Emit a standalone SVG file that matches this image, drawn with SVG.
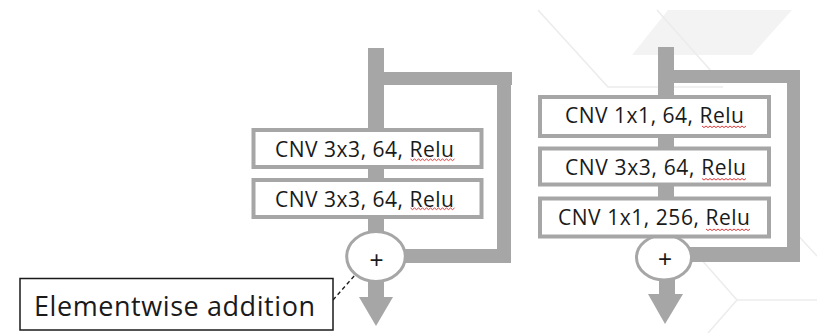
<svg xmlns="http://www.w3.org/2000/svg" xmlns:xlink="http://www.w3.org/1999/xlink" width="817" height="333" viewBox="0 0 817 333">
  <style>
    .flow { fill: #a6a6a6; }
    .box { fill: #ffffff; stroke: #a6a6a6; stroke-width: 4; }
    .sum { fill: #ffffff; stroke: #a6a6a6; stroke-width: 3; }
    .lbl { font-family: "Open Sans", "Liberation Sans", sans-serif; font-size: 21px; fill: #1a1a1a; }
    .plus { font-family: "Liberation Sans", sans-serif; font-size: 24px; fill: #1a1a1a; text-anchor: middle; }
    .note { font-family: "Open Sans", "Liberation Sans", sans-serif; font-size: 27px; fill: #1a1a1a; }
    .deco { fill: none; stroke: #ececec; stroke-width: 1.5; }
  </style>
  <defs>
    <!-- spell-check squiggle drawn under "Relu" -->
    <path id="squig" d="M0,0 l2,1.6 l2,-1.6 l2,1.6 l2,-1.6 l2,1.6 l2,-1.6 l2,1.6 l2,-1.6 l2,1.6 l2,-1.6 l2,1.6 l2,-1.6 l2,1.6 l2,-1.6 l2,1.6 l2,-1.6 l2,1.6 l2,-1.6 l2,1.6 l2,-1.6 l2,1.6 l2,-1.6" fill="none" stroke="#e23a3a" stroke-width="1"/>
  </defs>

  <rect width="817" height="333" fill="#ffffff"/>

  <!-- faint background ornament -->
  <g id="background">
    <polygon points="668,10 792,10 752,55 632,55" fill="#f3f3f3"/>
    <polyline class="deco" points="538,10 608,87 723,87"/>
    <line class="deco" x1="657" y1="10" x2="712" y2="72"/>
    <polyline class="deco" points="700,258 737,300 708,333"/>
    <line class="deco" x1="737" y1="300" x2="817" y2="300"/>
    <line class="deco" x1="795" y1="232" x2="817" y2="256"/>
  </g>

  <g id="connectors">
    <!-- basic block: main path, skip path, output arrow -->
    <rect class="flow" x="368" y="48" width="16" height="210"/>
    <rect class="flow" x="384" y="72" width="128" height="13"/>
    <rect class="flow" x="497" y="72" width="14" height="191"/>
    <rect class="flow" x="395" y="249" width="116" height="14"/>
    <rect class="flow" x="368" y="270" width="16" height="28"/>
    <polygon class="flow" points="359,297 393,297 376,326"/>
    <!-- bottleneck block: main path, skip path, output arrow -->
    <rect class="flow" x="658" y="47" width="16" height="210"/>
    <rect class="flow" x="674" y="70" width="126" height="13"/>
    <rect class="flow" x="787" y="70" width="13" height="192"/>
    <rect class="flow" x="685" y="247" width="115" height="15"/>
    <rect class="flow" x="659" y="270" width="16" height="26"/>
    <polygon class="flow" points="648,294 683,294 665,324"/>
    <!-- callout leader -->
    <line x1="333" y1="300" x2="355" y2="275" stroke="#1a1a1a" stroke-width="1.3" stroke-dasharray="4 3"/>
  </g>

  <g id="add-basic">
    <ellipse class="sum" cx="376" cy="256.5" rx="29.3" ry="25"/>
    <text class="plus" x="376.5" y="268">+</text>
  </g>
  <g id="add-bottleneck">
    <ellipse class="sum" cx="664" cy="257.5" rx="27.5" ry="22.5"/>
    <text class="plus" x="665" y="267">+</text>
  </g>

  <g id="basic-conv1">
    <rect class="box" x="253.5" y="130" width="228" height="37"/>
    <text class="lbl" x="275" y="157" textLength="179">CNV 3x3, 64, Relu</text>
    <use xlink:href="#squig" x="410.5" y="159"/>
  </g>
  <g id="basic-conv2">
    <rect class="box" x="253.5" y="180" width="228" height="37"/>
    <text class="lbl" x="275" y="207" textLength="179">CNV 3x3, 64, Relu</text>
    <use xlink:href="#squig" x="410.5" y="208"/>
  </g>

  <g id="bottleneck-conv1">
    <rect class="box" x="540" y="97" width="229" height="39"/>
    <text class="lbl" x="565" y="122.5" textLength="179">CNV 1x1, 64, Relu</text>
    <use xlink:href="#squig" x="702" y="126"/>
  </g>
  <g id="bottleneck-conv2">
    <rect class="box" x="540" y="148.5" width="229" height="36"/>
    <text class="lbl" x="565" y="175" textLength="181">CNV 3x3, 64, Relu</text>
    <use xlink:href="#squig" x="702" y="178.5"/>
  </g>
  <g id="bottleneck-conv3">
    <rect class="box" x="540" y="198.5" width="229" height="38"/>
    <text class="lbl" x="558" y="225" textLength="192">CNV 1x1, 256, Relu</text>
    <use xlink:href="#squig" x="706" y="229"/>
  </g>

  <g id="callout">
    <rect x="20" y="278.5" width="313" height="51.5" fill="#ffffff" stroke="#1a1a1a" stroke-width="1.5"/>
    <text class="note" x="34" y="316" textLength="281">Elementwise addition</text>
  </g>
</svg>
